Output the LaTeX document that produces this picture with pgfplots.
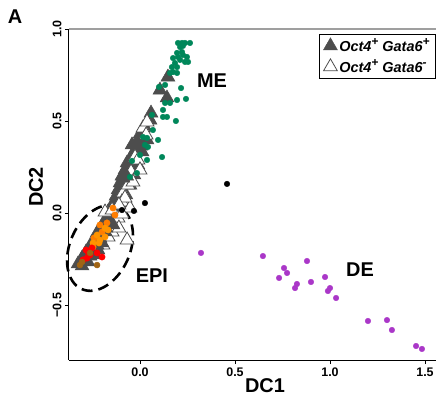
\documentclass[border=0pt]{standalone}
\usepackage{fontspec}
\setmainfont{Liberation Sans}
\usepackage{pgfplots}
\pgfplotsset{compat=1.18}
\usetikzlibrary{shapes.geometric}
\definecolor{megreen}{RGB}{0,135,90}
\definecolor{depurple}{RGB}{170,55,200}
\definecolor{orangeA}{RGB}{255,125,0}
\definecolor{orangeB}{RGB}{255,148,0}
\definecolor{epired}{RGB}{255,0,0}
\definecolor{epibrown}{RGB}{160,100,20}
\definecolor{trigray}{RGB}{77,77,77}
\newcommand{\sups}[1]{\raisebox{0.45em}{\fontsize{12}{12}\selectfont #1}}
\begin{document}
\begin{tikzpicture}
\useasboundingbox (-69bp,-38bp) rectangle (367bp,360bp);
\begin{axis}[
  scale only axis, width=367bp, height=331bp,
  xmin=-0.3737, xmax=1.558, ymin=-0.799, ymax=1.0,
  clip=false,
  axis x line*=bottom, axis y line*=left,
  axis line style={line width=1bp, black},
  tick align=outside, major tick length=4bp,
  tick style={black, line width=0.8bp},
  xtick={0,0.5,1,1.5}, xticklabels={0.0,0.5,1.0,1.5},
  ytick={-0.5,0,0.5,1}, yticklabels={−0.5,0.0,0.5,1.0},
  ticklabel style={font=\bfseries\fontsize{12.5}{13}\selectfont},
  yticklabel style={rotate=90, anchor=south},
  /pgf/number format/assume math mode=true,
  xlabel={DC1}, ylabel={DC2},
  every axis x label/.style={at={(axis description cs:0.534,-0.0785)}, anchor=center, font=\bfseries\fontsize{20}{22}\selectfont},
  every axis y label/.style={at={(axis description cs:-0.0899,0.5227)}, anchor=center, rotate=90, font=\bfseries\fontsize{20}{22}\selectfont},
  legend style={at={(axis description cs:1,0.985)}, anchor=north east, draw=black, line width=0.8bp, fill=white,
    font=\bfseries\itshape\fontsize{14.5}{16}\selectfont, inner xsep=4bp, inner ysep=2bp, row sep=2bp},
  legend cell align=left,
  legend image code/.code={\draw[#1] plot coordinates {(0.12cm,0cm)};},
]
% filled triangles (Oct4+ Gata6+)
\addplot[only marks, mark=triangle*, mark size=8bp, mark options={fill=trigray, draw=trigray, line width=0.5bp}] coordinates {
(0.147,0.739) (0.142,0.625) (0.105,0.668) (0.058,0.543) (0.053,0.505) (0.026,0.467) (0.000,0.429) (-0.011,0.397)
(0.037,0.397) (0.005,0.364) (-0.042,0.370) (-0.026,0.342) (0.011,0.332) (-0.047,0.304) (-0.068,0.272) (-0.011,0.261)
(-0.079,0.234) (-0.032,0.207) (-0.095,0.201)
(-0.105,0.163) (-0.053,0.152) (-0.116,0.125) (-0.074,0.098) (-0.126,0.092) (-0.137,0.060) (-0.100,0.043) (-0.147,0.033) (-0.158,0.005)
(-0.116,0.005) (-0.174,-0.022) (-0.189,-0.049) (-0.168,-0.060) (-0.147,-0.011) (-0.132,0.016)
(-0.163,-0.038) (-0.105,0.125) (-0.084,0.179) (-0.063,0.245) (-0.037,0.315) (-0.016,0.359)
(-0.121,0.071)
};
\addlegendentry{Oct4\sups{+} Gata6\sups{+}}
% open triangles (Oct4+ Gata6-)
\addplot[only marks, mark=triangle*, mark size=8bp, mark options={fill=white, draw=trigray, line width=0.8bp}] coordinates {
(0.016,0.462) (0.037,0.495) (-0.026,0.304) (-0.089,0.109) (-0.095,0.060) (-0.053,0.027)
(-0.068,-0.147) (-0.132,-0.065) (-0.147,-0.103) (-0.168,-0.130) (-0.184,0.005) (-0.147,0.016)
(-0.116,-0.027) (-0.195,-0.174) (-0.047,0.223) (-0.063,0.152) (-0.011,0.288) (0.032,0.424)
(-0.079,0.082) (-0.111,-0.082) (-0.095,-0.005) (0.000,0.234) (-0.037,0.168) (-0.111,0.043)
};
\addlegendentry{Oct4\sups{+} Gata6\sups{-}}
% more filled triangles (dense lower band)
\addplot[forget plot, only marks, mark=triangle*, mark size=8bp, mark options={fill=trigray, draw=trigray, line width=0.5bp}] coordinates {
(-0.205,-0.082) (-0.184,-0.103) (-0.226,-0.109) (-0.211,-0.136) (-0.242,-0.147) (-0.226,-0.174)
(-0.263,-0.179) (-0.247,-0.201) (-0.284,-0.212) (-0.263,-0.234) (-0.305,-0.245) (-0.284,-0.261)
(-0.326,-0.277) (-0.305,-0.288) (-0.221,-0.201) (-0.200,-0.163) (-0.237,-0.228) (-0.274,-0.266)
(-0.179,-0.082) (-0.142,-0.065) (-0.090,0.190) (-0.070,0.200)
};
% ME (green)
\addplot[forget plot, only marks, mark=*, mark size=2.8bp, color=megreen] coordinates {
(0.200,0.924) (0.221,0.924) (0.237,0.924) (0.263,0.924) (0.211,0.902) (0.226,0.908)
(0.195,0.870) (0.221,0.875) (0.226,0.859) (0.200,0.848) (0.247,0.848) (0.174,0.842)
(0.211,0.832) (0.237,0.821) (0.184,0.815) (0.253,0.821) (0.168,0.793) (0.195,0.793)
(0.174,0.766) (0.195,0.761) (0.158,0.761) (0.100,0.685) (0.216,0.679) (0.132,0.696)
(0.242,0.620) (0.195,0.614) (0.158,0.598) (0.132,0.598) (0.121,0.560) (0.063,0.533)
(0.121,0.522) (0.142,0.522) (0.189,0.500) (0.068,0.451) (0.037,0.408) (0.016,0.413)
(0.095,0.397) (0.026,0.370) (0.042,0.359) (0.116,0.304) (0.000,0.315) (0.037,0.288)
(-0.042,0.283) (-0.016,0.217) (-0.053,0.196)
};
% black
\addplot[forget plot, only marks, mark=*, mark size=2.8bp, color=black] coordinates {
(0.458,0.158) (0.026,0.054) (-0.095,0.016) (-0.032,0.011)
};
% EPI orange
\addplot[forget plot, only marks, mark=*, mark size=3.2bp, color=orangeA] coordinates {
(-0.142,0.027) (-0.132,-0.011) (-0.174,-0.054) (-0.211,-0.065) (-0.200,-0.103) (-0.242,-0.136) (-0.247,-0.185)
};
\addplot[forget plot, only marks, mark=*, mark size=3.2bp, color=orangeB] coordinates {
(-0.184,-0.082) (-0.168,-0.092) (-0.226,-0.120) (-0.184,-0.130) (-0.211,-0.147) (-0.216,-0.163) (-0.247,-0.163)
};
% EPI red
\addplot[forget plot, only marks, mark=*, mark size=3.2bp, color=epired] coordinates {
(-0.253,-0.190) (-0.274,-0.212) (-0.263,-0.228) (-0.226,-0.217) (-0.279,-0.245) (-0.200,-0.239) (-0.300,-0.255) (-0.284,-0.201)
};
% EPI brown
\addplot[forget plot, only marks, mark=*, mark size=3bp, color=epibrown] coordinates {
(-0.263,-0.217) (-0.226,-0.283) (-0.305,-0.266) (-0.316,-0.283)
};
% DE purple
\addplot[forget plot, only marks, mark=*, mark size=2.8bp, color=depurple] coordinates {
(0.321,-0.217) (0.647,-0.234) (0.758,-0.299) (0.774,-0.326) (0.732,-0.353) (0.879,-0.261)
(0.826,-0.386) (0.816,-0.408) (0.900,-0.375) (0.974,-0.348) (1.000,-0.408) (0.989,-0.424)
(1.032,-0.462) (1.200,-0.587) (1.300,-0.582) (1.326,-0.636) (1.453,-0.723) (1.484,-0.739)
};
% annotations
\draw[gray!75, line width=1.5bp] (axis description cs:0,1) -- (axis description cs:1,1);
\node[draw=black, ellipse, line width=2.6bp, dash pattern=on 11bp off 6bp, minimum width=90bp, minimum height=60bp, inner sep=0pt, rotate=66] at (axis cs:-0.2105,-0.190) {};
\node[font=\bfseries\fontsize{20}{22}\selectfont] at (axis cs:0.379,0.717) {ME};
\node[font=\bfseries\fontsize{20}{22}\selectfont] at (axis cs:0.063,-0.342) {EPI};
\node[font=\bfseries\fontsize{20}{22}\selectfont] at (axis cs:1.158,-0.310) {DE};
\node[font=\bfseries\fontsize{20}{22}\selectfont] at (axis description cs:-0.147,1.036) {A};
\end{axis}
\end{tikzpicture}
\end{document}
